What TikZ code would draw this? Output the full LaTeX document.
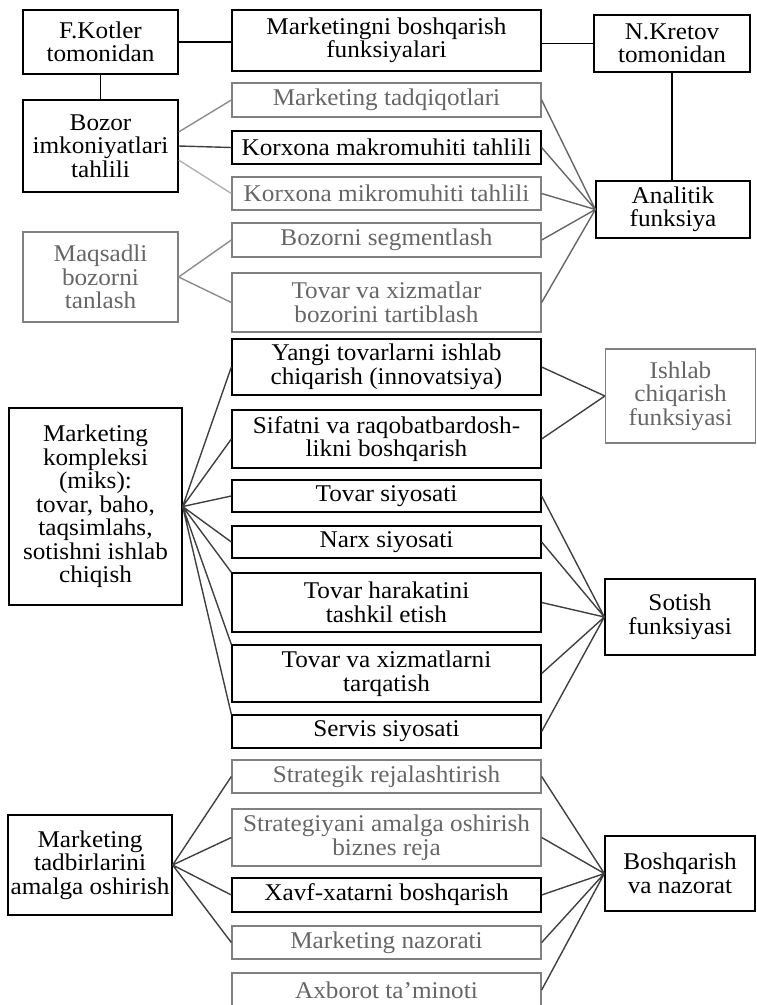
\documentclass[tikz,border=0pt]{standalone}
\usepackage{fontspec}
\setmainfont{Liberation Serif}[FakeStretch=1.05]
\usetikzlibrary{calc}

\begin{document}
\begin{tikzpicture}[
  x=1pt,y=-1pt,
  box/.style={draw,line width=1.3pt,align=center,inner sep=0pt,
    font=\fontsize{24}{23.5}\selectfont},
  gbox/.style={box,draw=black!50,text=black!60},
  lcol/.style={minimum width=155pt},
  mcol/.style={minimum width=309pt},
  rcol/.style={minimum width=150pt},
  link/.style={line width=1.4pt,black!75},
  glink/.style={line width=1.4pt,black!45}
]
  \useasboundingbox (0,0) rectangle (756,1005);

  \node[box,lcol,minimum height=64pt] (kotler) at (100.5,42) {F.Kotler\\tomonidan};
  \node[box,mcol,minimum height=61pt] (funk) at (386.5,40.5) {Marketingni boshqarish\\funksiyalari};
  \node[box,minimum width=156pt,minimum height=57pt] (kretov) at (672,43.5) {N.Kretov\\tomonidan};

  \node[box,lcol,minimum height=92pt] (bozor) at (100.5,146) {Bozor\\imkoniyatlari\\tahlili};
  \node[gbox,lcol,minimum height=90pt] (maqsad) at (100.5,277) {Maqsadli\\bozorni\\tanlash};

  \node[gbox,mcol,minimum height=34pt] (tadqiq) at (386.5,100) {Marketing tadqiqotlari};
  \node[box,mcol,minimum height=33pt] (makro) at (386.5,147.5) {Korxona makromuhiti tahlili};
  \node[gbox,mcol,minimum height=33pt] (mikro) at (386.5,193.5) {Korxona mikromuhiti tahlili};
  \node[gbox,mcol,minimum height=34pt] (segment) at (386.5,240) {Bozorni segmentlash};
  \node[gbox,mcol,minimum height=59pt] (tartib) at (386.5,302.5) {Tovar va xizmatlar\\bozorini tartiblash};
  \node[box,minimum width=154pt,minimum height=57pt] (analit) at (673,209.5) {Analitik\\funksiya};

  \node[box,minimum width=173pt,minimum height=197pt] (kompleks) at (95.5,506.5)
    {Marketing\\kompleksi\\(miks):\\tovar, baho,\\taqsimlahs,\\sotishni ishlab\\chiqish};
  \node[box,mcol,minimum height=56pt] (innov) at (386.5,367) {Yangi tovarlarni ishlab\\chiqarish (innovatsiya)};
  \node[box,mcol,minimum height=58pt] (sifat) at (386.5,439) {Sifatni va raqobatbardosh-\\likni boshqarish};
  \node[box,mcol,minimum height=32pt] (tovsiy) at (386.5,496) {Tovar siyosati};
  \node[box,mcol,minimum height=32pt] (narx) at (386.5,542) {Narx siyosati};
  \node[box,mcol,minimum height=59pt] (harakat) at (386.5,602.5) {Tovar harakatini\\tashkil etish};
  \node[box,mcol,minimum height=57pt] (tarqat) at (386.5,673.5) {Tovar va xizmatlarni\\tarqatish};
  \node[box,mcol,minimum height=33pt] (servis) at (386.5,731.5) {Servis siyosati};
  \node[gbox,rcol,minimum height=94pt] (ishlab) at (680.5,396) {Ishlab\\chiqarish\\funksiyasi};
  \node[box,rcol,minimum height=76pt] (sotish) at (680,617) {Sotish\\funksiyasi};

  \node[box,minimum width=164pt,minimum height=100pt] (tadbir) at (90,865) {Marketing\\tadbirlarini\\amalga oshirish};
  \node[gbox,mcol,minimum height=33pt] (strateg) at (386.5,776.5) {Strategik rejalashtirish};
  \node[gbox,mcol,minimum height=57pt] (biznes) at (386.5,837.5) {Strategiyani amalga oshirish\\biznes reja};
  \node[box,mcol,minimum height=34pt] (xavf) at (386.5,895) {Xavf-xatarni boshqarish};
  \node[gbox,mcol,minimum height=33pt] (nazorat) at (386.5,942.5) {Marketing nazorati};
  \node[gbox,mcol,minimum height=34pt] (axborot) at (386.5,990) {Axborot ta'minoti};
  \node[box,rcol,minimum height=75pt] (boshq) at (680,873.5) {Boshqarish\\va nazorat};

  \draw[line width=1.3pt] (kotler.east) -- (kotler.east -| funk.west);
  \draw[line width=1.3pt] (kretov.west -| funk.east) -- (kretov.west);
  \draw[line width=1.3pt] (kotler.south) -- (bozor.north);
  \draw[line width=1.3pt] (kretov.south) -- (kretov.south |- analit.north);

  \draw[glink] ([yshift=14pt]bozor.east) -- (tadqiq.west);
  \draw[link] (bozor.east) -- (makro.west);
  \draw[glink,black!30] ([yshift=-14pt]bozor.east) -- (mikro.west);
  \draw[glink] (maqsad.east) -- (segment.west) (maqsad.east) -- (tartib.west);
  \draw[glink,black!60] (tadqiq.east) -- (analit.west) (makro.east) -- (analit.west)
    (mikro.east) -- (analit.west) (segment.east) -- (analit.west) (tartib.east) -- (analit.west);

  \draw[link] (kompleks.east) -- (innov.west) (kompleks.east) -- (sifat.west)
    (kompleks.east) -- (tovsiy.west) (kompleks.east) -- (narx.west)
    (kompleks.east) -- (harakat.north west) (kompleks.east) -- (tarqat.north west)
    (kompleks.east) -- (servis.north west);
  \draw[link] (innov.east) -- (ishlab.west) (sifat.east) -- (ishlab.west);
  \draw[link] (tovsiy.east) -- (sotish.west) (narx.east) -- (sotish.west)
    (harakat.east) -- (sotish.west) (tarqat.east) -- (sotish.west) (servis.east) -- (sotish.west);

  \draw[link] (tadbir.east) -- (strateg.west) (tadbir.east) -- (biznes.west)
    (tadbir.east) -- (xavf.west) (tadbir.east) -- (nazorat.west);
  \draw[link] (strateg.east) -- (boshq.west) (biznes.east) -- (boshq.west)
    (xavf.east) -- (boshq.west) (nazorat.east) -- (boshq.west) (axborot.east) -- (boshq.west);
\end{tikzpicture}
\end{document}
